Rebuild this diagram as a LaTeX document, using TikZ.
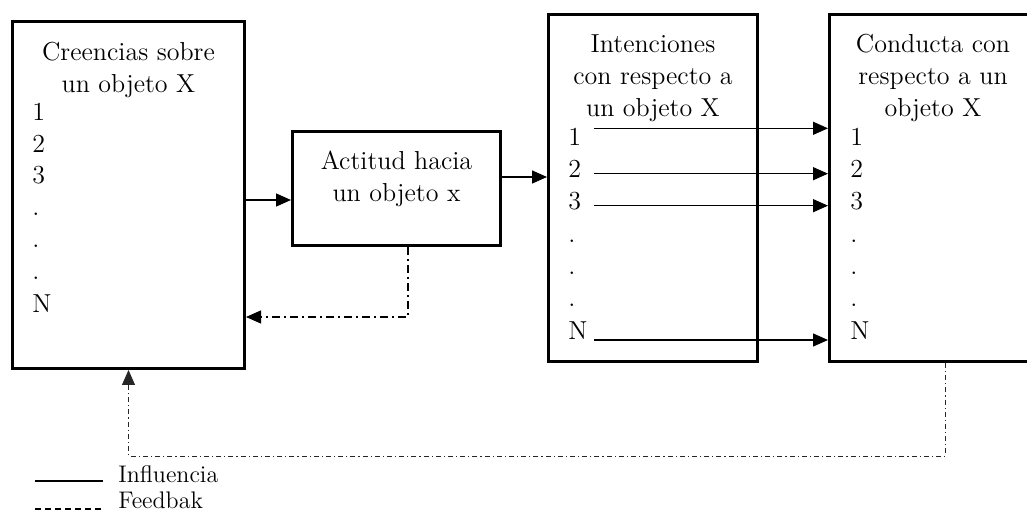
\documentclass[tikz,border=0pt]{standalone}
\usetikzlibrary{arrows.meta}
\begin{document}
\begin{tikzpicture}[x=0.5pt,y=-0.5pt,font=\fontsize{13}{16}\selectfont,
    box/.style={draw, line width=1.5pt, inner sep=0pt},
    title/.style={align=center, anchor=north, inner sep=0pt},
    item/.style={anchor=base west, inner sep=0pt},
    tip/.style={-{Triangle[length=7.5pt,width=6.5pt]}},
    flow/.style={tip, line width=0.7pt},
    back/.style={tip, dash pattern=on 4pt off 2pt on 1pt off 2pt, line width=0.6pt},
    longback/.style={tip, dash pattern=on 2.5pt off 1.5pt on 0.6pt off 1.5pt, line width=0.4pt, black!85}]
    \useasboundingbox (0,0) rectangle (1027,512);

    % cajas
    \node[box, minimum width=116pt, minimum height=173.5pt] (b1) at (128.5,195) {};
    \node[box, minimum width=104pt, minimum height=57pt] (b2) at (396.5,188.5) {};
    \node[box, minimum width=104.5pt, minimum height=173.5pt] (b3) at (653,188) {};
    \node[box, minimum width=116pt, minimum height=173.5pt] (b4) at (945.5,188) {};

    % textos
    \node[title] (t1) at (128.5,42) {Creencias sobre\\un objeto X};
    \node[title] (t2) at (396.5,151) {Actitud hacia\\un objeto x};
    \node[title] (t3) at (653,34) {Intenciones\\con respecto a\\un objeto X};
    \node[title] (t4) at (933,34) {Conducta con\\respecto a un\\objeto X};

    \node[item] (c1) at (32,121) {1};
    \node[item] (c2) at (32,153) {2};
    \node[item] (c3) at (32,184) {3};
    \node[item] (c4) at (32,216) {.};
    \node[item] (c5) at (32,248) {.};
    \node[item] (c6) at (32,280) {.};
    \node[item] (cN) at (32,313) {N};

    \node[item] (i1) at (568,146) {1};
    \node[item] (i2) at (568,178) {2};
    \node[item] (i3) at (568,210) {3};
    \node[item] (i4) at (568,243) {.};
    \node[item] (i5) at (568,275) {.};
    \node[item] (i6) at (568,307) {.};
    \node[item] (iN) at (568,340) {N};

    \node[item] (k1) at (850,146) {1};
    \node[item] (k2) at (850,178) {2};
    \node[item] (k3) at (850,210) {3};
    \node[item] (k4) at (850,243) {.};
    \node[item] (k5) at (850,275) {.};
    \node[item] (k6) at (850,307) {.};
    \node[item] (kN) at (850,340) {N};

    % influencias
    \draw[flow] (b1.east |- 0,200) -- (b2.west |- 0,200);
    \draw[flow] (b2.east |- 0,177) -- (b3.west |- 0,177);
    \coordinate (st) at ([xshift=3pt]iN.east);
    \draw[flow] (st |- i1.north) -- (b4.west |- i1.north);
    \draw[flow] (st |- i2.mid) -- (b4.west |- i2.mid);
    \draw[flow] (st |- i3.mid) -- (b4.west |- i3.mid);
    \draw[flow] (st |- iN.base) -- (b4.west |- iN.base);

    % feedback
    \draw[back] (408,0 |- b2.south) |- (b1.east |- 0,317);
    \draw[longback] (b4.south) |- (b1.south |- 0,456) -- (b1.south);

    % leyenda
    \node[item, font=\fontsize{12}{14}\selectfont] (l1) at (118,483) {Influencia};
    \node[item, font=\fontsize{12}{14}\selectfont] (l2) at (118,509) {Feedbak};
    \draw[line width=0.7pt] (35,481) -- (103,481);
    \draw[line width=0.7pt, dash pattern=on 3pt off 2pt] (35,509) -- (103,509);
\end{tikzpicture}
\end{document}
